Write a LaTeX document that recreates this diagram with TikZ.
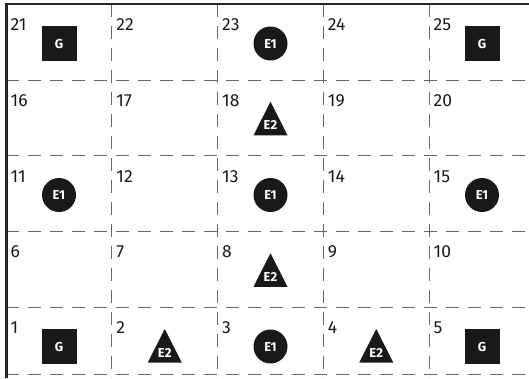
\documentclass[tikz,border=0pt]{standalone}
\usepackage{fontspec}
\setmainfont{Fira Sans}

\tikzset{
  gridline/.style={draw=black!60, line width=0.9pt, dash pattern=on 13pt off 9pt},
  border/.style={draw=black!85, line width=2.6pt},
  cellnum/.style={anchor=base west, inner sep=0pt, text=black!90, font=\fontsize{17.5}{18}\selectfont},
  goal/.style={rectangle, fill=black!90, minimum size=35pt, inner sep=0pt, text=white, font=\bfseries\fontsize{13}{13}\selectfont},
  enemyone/.style={circle, fill=black!90, minimum size=34pt, inner sep=0pt, text=white, font=\bfseries\fontsize{13}{13}\selectfont},
  enemytwo/.style={inner sep=0pt, text=white, font=\bfseries\fontsize{13}{13}\selectfont}
}

\begin{document}
\begin{tikzpicture}[x=1pt,y=-1pt]

\useasboundingbox (0,0) rectangle (529,378);

% Dashed cell borders
\foreach \y in {80,155.5,231,307,374.5}
{
  \draw[gridline] (6,\y) -- (529,\y);
}
\foreach \x in {111.75,217.5,323.25,429}
{
  \draw[gridline] (\x,4) -- (\x,378);
}

% Outer border (top and left)
\draw[border] (6.5,378) -- (6.5,4) -- (529,4);

% Cell numbers and cell centres
\foreach \n in {1,...,25}
{
  \pgfmathtruncatemacro\col{mod(\n-1,5)}
  \pgfmathtruncatemacro\row{4-div(\n-1,5)}
  \node[cellnum] (n\n) at ({10.5+\col*105.75},{30.5+\row*75.75}) {\n};
  \coordinate (c\n) at ({59+\col*105.75},{43.5+\row*75.75});
}

% Goals
\foreach \n in {1,5,21,25}
{
  \node[goal] (g\n) at (c\n) {G};
}

% Enemies of type 1
\foreach \n in {3,11,13,15,23}
{
  \node[enemyone] (e\n) at (c\n) {E1};
}

% Enemies of type 2
\foreach \n in {2,4,8,18}
{
  \fill[black!90, shift={(c\n)}] (0,-17.5) -- (17,16) -- (-17,16) -- cycle;
  \node[enemytwo] (f\n) at ([yshift=-6pt]c\n) {E2};
}

\end{tikzpicture}
\end{document}
